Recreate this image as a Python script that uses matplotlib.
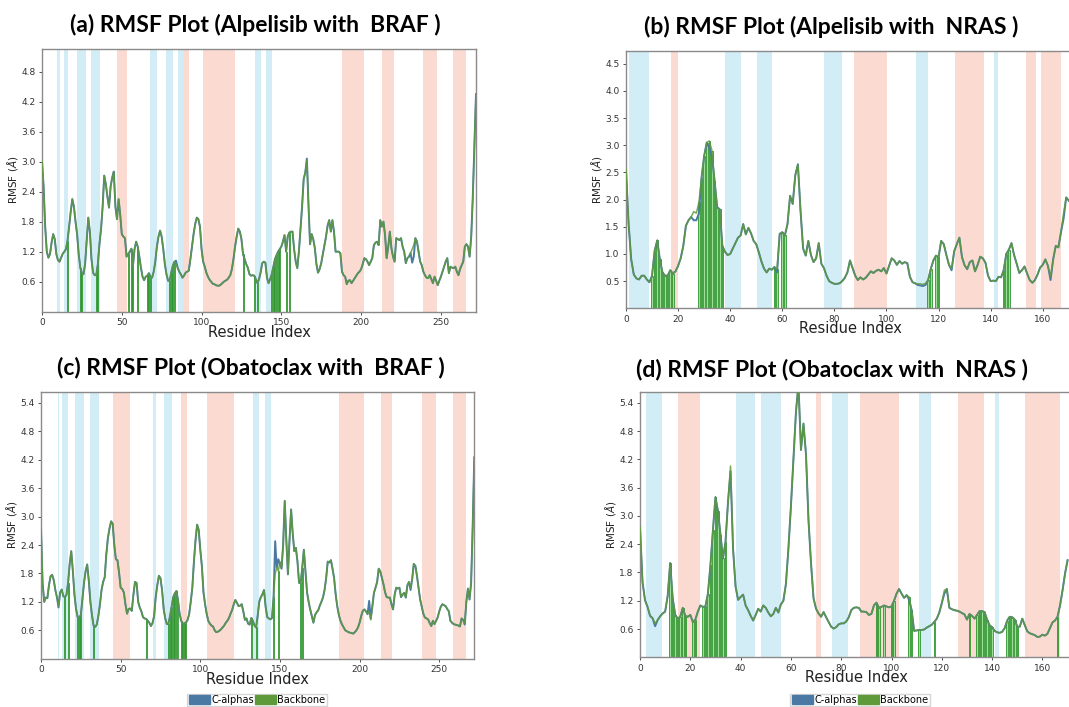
import numpy as np
import matplotlib
matplotlib.use('Agg')
import matplotlib.pyplot as plt
from matplotlib.patches import Patch

# ---- data ----
titles = ['(a) RMSF Plot (Alpelisib with  BRAF )', '(b) RMSF Plot (Alpelisib with  NRAS )',
          '(c) RMSF Plot (Obatoclax with  BRAF )', '(d) RMSF Plot (Obatoclax with  NRAS )']

# backbone RMSF per residue (Angstrom)
bb_a = [3.0, 2.5, 1.7, 1.2, 1.08, 1.15, 1.38, 1.55, 1.45, 1.15, 1.03, 1.0, 1.08, 1.16, 1.2, 1.25, 1.42, 1.7, 2.0, 2.25,
        2.1, 1.8, 1.55, 1.15, 0.88, 0.77, 0.75, 0.95, 1.4, 1.88, 1.6, 1.05, 0.78, 0.73, 0.73, 0.95, 1.35, 1.65, 2.1, 2.72,
        2.55, 2.3, 2.08, 2.5, 2.68, 2.8, 2.1, 1.85, 2.25, 1.95, 1.55, 1.5, 1.47, 1.1, 1.15, 1.2, 1.26, 0.92, 1.25, 1.4,
        1.3, 1.1, 0.88, 0.7, 0.63, 0.7, 0.72, 0.77, 0.7, 0.68, 0.8, 1.0, 1.3, 1.5, 1.62, 1.5, 1.25, 0.95, 0.75, 0.62,
        0.62, 0.78, 0.92, 1.0, 0.95, 0.88, 0.8, 0.75, 0.68, 0.72, 0.78, 0.8, 0.82, 1.05, 1.3, 1.55, 1.75, 1.88, 1.85, 1.7,
        1.25, 1.0, 0.9, 0.78, 0.7, 0.64, 0.6, 0.56, 0.55, 0.53, 0.52, 0.52, 0.54, 0.57, 0.6, 0.62, 0.64, 0.68, 0.73, 0.85,
        1.05, 1.3, 1.5, 1.66, 1.6, 1.45, 1.15, 1.05, 0.95, 0.88, 0.75, 0.72, 0.73, 0.72, 0.65, 0.57, 0.65, 0.78, 0.97, 1.0,
        0.98, 0.68, 0.57, 0.65, 0.75, 0.9, 1.05, 1.13, 1.2, 1.25, 1.3, 1.4, 1.53, 1.2, 1.5, 1.58, 1.6, 1.6, 1.25, 1.0,
        0.87, 1.2, 1.65, 2.1, 2.65, 2.78, 3.03, 2.15, 1.35, 1.55, 1.45, 1.27, 0.95, 0.78, 0.85, 0.97, 1.15, 1.33, 1.5, 1.72,
        1.83, 1.6, 1.83, 1.6, 1.2, 1.2, 1.2, 1.17, 0.8, 0.73, 0.7, 0.55, 0.62, 0.63, 0.57, 0.62, 0.67, 0.72, 0.77, 0.8,
        0.85, 0.95, 1.07, 1.05, 1.0, 0.93, 1.0, 1.07, 1.33, 1.38, 1.4, 1.33, 1.83, 1.7, 1.8, 1.53, 1.07, 1.3, 1.6, 1.27,
        1.1, 1.0, 1.47, 1.45, 1.43, 1.47, 1.3, 1.2, 0.97, 1.07, 1.1, 1.17, 1.25, 1.33, 1.47, 1.4, 1.2, 1.0, 0.93, 0.8,
        0.73, 0.68, 0.67, 0.73, 0.65, 0.57, 0.7, 0.62, 0.53, 0.62, 0.7, 0.8, 0.9, 1.0, 1.07, 0.77, 0.9, 0.88, 0.87, 0.9,
        0.8, 0.73, 0.85, 0.93, 1.0, 1.3, 1.35, 1.3, 1.1, 1.5, 2.3, 3.3, 4.35]

bb_b = [2.55, 1.55, 0.9, 0.62, 0.55, 0.53, 0.6, 0.6, 0.53, 0.48, 0.6, 1.06, 1.25, 0.9, 0.66, 0.6, 0.6, 0.7, 0.64, 0.68,
        0.78, 0.92, 1.15, 1.52, 1.62, 1.68, 1.78, 1.75, 1.95, 2.4, 2.8, 3.05, 3.08, 2.9, 2.35, 1.86, 1.82, 1.15, 1.04, 0.98,
        1.0, 1.1, 1.2, 1.3, 1.34, 1.55, 1.36, 1.48, 1.38, 1.24, 1.18, 1.03, 0.86, 0.73, 0.66, 0.73, 0.71, 0.76, 0.72, 1.37,
        1.4, 1.34, 1.55, 2.07, 1.92, 2.45, 2.65, 1.8, 1.1, 0.97, 1.24, 0.98, 0.85, 0.92, 1.2, 0.82, 0.74, 0.6, 0.5, 0.47,
        0.45, 0.45, 0.46, 0.5, 0.56, 0.66, 0.88, 0.74, 0.6, 0.52, 0.57, 0.53, 0.56, 0.62, 0.68, 0.65, 0.69, 0.71, 0.68, 0.74,
        0.64, 0.78, 0.92, 0.88, 0.8, 0.87, 0.82, 0.85, 0.83, 0.58, 0.48, 0.46, 0.45, 0.45, 0.44, 0.46, 0.52, 0.72, 0.88, 0.97,
        0.94, 1.24, 1.18, 0.98, 0.8, 0.73, 1.05, 1.18, 1.3, 0.94, 0.79, 0.72, 0.85, 0.88, 0.68, 0.8, 0.95, 0.92, 0.84, 0.6,
        0.5, 0.51, 0.5, 0.58, 0.57, 0.7, 1.0, 1.08, 1.2, 0.98, 0.82, 0.65, 0.7, 0.77, 0.64, 0.52, 0.47, 0.52, 0.62, 0.75,
        0.8, 0.9, 0.78, 0.58, 0.9, 1.15, 1.12, 1.4, 1.75, 2.04, 1.98]

bb_c = [2.75, 1.6, 1.2, 1.29, 1.28, 1.55, 1.74, 1.77, 1.66, 1.45, 1.3, 1.12, 1.4, 1.46, 1.32, 1.3, 1.35, 1.6, 2.0, 2.27,
        1.85, 1.35, 1.05, 0.88, 0.87, 0.92, 1.25, 1.6, 1.85, 1.99, 1.65, 1.2, 0.92, 0.7, 0.67, 0.72, 0.9, 1.15, 1.45, 1.62,
        1.72, 2.2, 2.55, 2.75, 2.9, 2.85, 2.4, 2.1, 2.08, 1.82, 1.5, 1.47, 1.4, 1.15, 0.95, 1.05, 1.06, 1.01, 1.35, 1.62,
        1.6, 1.2, 1.08, 1.0, 0.88, 0.85, 0.84, 0.8, 0.76, 0.69, 0.75, 0.9, 1.3, 1.55, 1.75, 1.7, 1.45, 1.05, 0.85, 0.73,
        0.74, 0.9, 1.1, 1.3, 1.38, 1.43, 1.24, 0.95, 0.8, 0.73, 0.75, 0.76, 0.82, 0.94, 1.2, 1.5, 2.05, 2.5, 2.83, 2.72,
        2.3, 1.95, 1.4, 1.15, 0.95, 0.8, 0.74, 0.7, 0.68, 0.6, 0.56, 0.57, 0.59, 0.62, 0.66, 0.7, 0.76, 0.8, 0.86, 0.95,
        1.03, 1.15, 1.24, 1.18, 1.11, 1.12, 1.15, 1.0, 0.82, 0.85, 0.74, 0.72, 0.86, 0.8, 0.7, 0.66, 0.9, 1.2, 1.3, 1.36,
        1.45, 1.1, 0.88, 0.85, 0.83, 0.86, 1.3, 1.8, 1.92, 1.85, 2.05, 1.9, 2.4, 3.33, 2.5, 1.78, 2.5, 3.15, 2.65, 2.27,
        2.34, 2.05, 1.6, 1.6, 1.92, 2.3, 1.85, 1.4, 1.2, 1.04, 0.9, 0.76, 0.92, 0.98, 1.02, 1.12, 1.2, 1.29, 1.45, 1.7,
        2.05, 2.03, 2.08, 1.9, 1.7, 1.35, 1.1, 0.92, 0.8, 0.72, 0.66, 0.6, 0.58, 0.56, 0.55, 0.54, 0.53, 0.56, 0.6, 0.66,
        0.76, 0.9, 1.01, 1.04, 1.0, 0.94, 1.0, 0.82, 1.1, 1.39, 1.5, 1.62, 1.9, 1.84, 1.7, 1.57, 1.4, 1.3, 1.29, 1.29,
        1.15, 1.04, 1.35, 1.5, 1.48, 1.5, 1.3, 1.35, 1.39, 1.29, 1.55, 1.62, 1.5, 1.68, 2.0, 1.96, 1.75, 1.5, 1.25, 1.1,
        0.95, 0.87, 0.85, 0.83, 0.75, 0.69, 0.8, 0.73, 0.8, 0.87, 1.0, 1.1, 1.15, 1.13, 1.11, 1.05, 1.0, 0.8, 0.76, 0.73,
        0.72, 0.71, 0.7, 0.68, 0.85, 0.82, 0.75, 1.2, 1.48, 1.25, 1.6, 2.8, 4.25]

bb_d = [2.76, 1.6, 1.21, 1.07, 0.88, 0.83, 0.72, 0.79, 0.87, 0.93, 0.97, 1.3, 2.0, 1.25, 0.9, 0.82, 0.86, 1.05, 0.88, 0.86,
        0.9, 0.75, 0.8, 0.97, 1.1, 1.07, 1.08, 1.35, 1.95, 2.7, 3.4, 3.1, 2.6, 2.1, 2.45, 3.3, 4.06, 2.3, 1.5, 1.22,
        1.28, 1.33, 1.1, 1.0, 0.88, 0.78, 0.9, 1.03, 0.97, 1.1, 1.05, 0.95, 0.87, 0.92, 1.05, 0.95, 1.12, 1.2, 1.55, 2.3,
        3.2, 4.2, 5.2, 5.8, 4.4, 4.96, 4.3, 2.9, 1.99, 1.25, 1.03, 0.93, 0.86, 0.96, 0.85, 0.75, 0.65, 0.61, 0.64, 0.7,
        0.72, 0.72, 0.76, 0.85, 1.0, 1.05, 1.06, 1.05, 0.97, 0.97, 0.96, 0.9, 0.92, 1.1, 1.16, 1.05, 1.07, 1.1, 1.08, 1.06,
        1.08, 1.2, 1.35, 1.45, 1.35, 1.26, 1.32, 1.28, 1.0, 0.56, 0.57, 0.58, 0.58, 0.59, 0.63, 0.66, 0.69, 0.75, 0.82, 0.95,
        1.15, 1.42, 1.45, 1.05, 1.02, 1.0, 0.99, 0.97, 0.94, 0.91, 0.8, 0.92, 0.88, 0.82, 0.9, 0.98, 0.98, 0.96, 0.8, 0.68,
        0.64, 0.56, 0.53, 0.52, 0.54, 0.62, 0.78, 0.86, 0.85, 0.8, 0.65, 0.65, 0.82, 0.68, 0.55, 0.51, 0.49, 0.47, 0.43, 0.44,
        0.48, 0.46, 0.5, 0.62, 0.74, 0.78, 0.86, 1.1, 1.42, 1.78, 2.06]

# C-alpha RMSF: same as backbone except where the blue trace shows separately
ca_diff_a = {84: 1.02, 166: 3.06, 232: 0.98, 233: 1.1}
ca_diff_b = {26: 1.62, 27: 1.62, 28: 1.75, 32: 2.95, 33: 2.8, 58: 0.66, 112: 0.43, 113: 0.42, 114: 0.41,
             115: 0.43, 125: 0.7, 163: 0.52, 168: 1.65}
ca_diff_c = {11: 1.08, 147: 2.48, 149: 2.1, 150: 2.0, 206: 1.22, 207: 0.85, 232: 1.45, 266: 0.72}
ca_diff_d = {6: 0.66, 36: 3.95, 107: 1.22, 121: 1.35}

# residues in contact with the ligand (green bars)
contacts_a = [16, 24, 25, 34, 35, 54, 56, 57, 60, 66, 67, 68, 80, 81, 82, 83, 126, 133, 135,
              144, 145, 146, 147, 148, 149, 153, 155]
contacts_b = [10, 11, 12, 13, 14, 15, 16, 17, 18, 28, 29, 30, 31, 32, 33, 34, 35, 36, 37,
              57, 58, 60, 61, 116, 117, 119, 120, 145, 146, 147]
contacts_c = [15, 17, 23, 24, 25, 33, 66, 80, 81, 82, 83, 84, 85, 86, 88, 89, 90, 91,
              132, 135, 146, 149, 163, 164]
contacts_d = [12, 13, 14, 15, 16, 17, 18, 21, 22, 25, 26, 27, 28, 29, 30, 31, 32, 33, 34,
              94, 95, 97, 100, 101, 107, 108, 111, 117, 131, 134, 135, 136, 137, 138, 139, 140,
              146, 147, 148, 149, 150, 166]

# secondary structure regions (strands in blue, helices in salmon)
strand_a = [(9.5, 11), (13.7, 16.5), (22, 27.4), (30.6, 36.2), (67.5, 72), (77.5, 82), (85.3, 88.4),
            (133.5, 137.2), (140.2, 144.2)]
helix_a = [(46.8, 53.2), (88.4, 92.2), (101, 121), (188.2, 201.8), (213.2, 220.7), (238.9, 247.5), (257.7, 265.6)]
strand_b = [(1, 9), (38.2, 44.2), (50.2, 56), (76.2, 83.1), (111.5, 116), (141.4, 143)]
helix_b = [(17.2, 20), (87.4, 100.2), (126.4, 137.3), (153.4, 157.3), (159.4, 167.2)]
strand_c = [(10.7, 11.5), (13.4, 16.9), (21.5, 27), (30.5, 36.3), (70.3, 72.4), (77, 82.2),
            (133.2, 137), (140.6, 144.1)]
helix_c = [(45.4, 56), (88.1, 91.8), (104.4, 121), (187, 202.5), (213.3, 220.2), (239.1, 247.9), (258.5, 267)]
strand_d = [(2.3, 8.7), (38, 45.6), (48.1, 56), (76.3, 82.8), (111.1, 115.7), (141, 142.7)]
helix_d = [(15, 23.9), (70.1, 71.8), (87.3, 102.8), (126.3, 136.7), (153, 166.8)]

ca_col = '#4a7aa3'
bb_col = '#5f9a3a'

W, H = 1069, 707
fig = plt.figure(figsize=(W / 100, H / 100), dpi=100)


def px_axes(left, top, right, bottom):
    return fig.add_axes([left / W, 1 - bottom / H, (right - left) / W, (bottom - top) / H])


panels = [
    dict(bb=bb_a, ca=ca_diff_a, con=contacts_a, st=strand_a, hx=helix_a, box=(42, 49, 476, 311.7),
         xlim=272, ylim=5.25, yt=np.arange(0.6, 4.81, 0.6), xt=range(0, 251, 50), tpos=(255, 25)),
    dict(bb=bb_b, ca=ca_diff_b, con=contacts_b, st=strand_b, hx=helix_b, box=(626, 50.7, 1074, 308.3),
         xlim=172, ylim=4.74, yt=np.arange(0.5, 4.51, 0.5), xt=range(0, 161, 20), tpos=(831, 27)),
    dict(bb=bb_c, ca=ca_diff_c, con=contacts_c, st=strand_c, hx=helix_c, box=(41, 392, 474.3, 658.7),
         xlim=272, ylim=5.63, yt=np.arange(0.6, 5.41, 0.6), xt=range(0, 251, 50), tpos=(251, 368)),
    dict(bb=bb_d, ca=ca_diff_d, con=contacts_d, st=strand_d, hx=helix_d, box=(640, 392, 1072.6, 657.3),
         xlim=172, ylim=5.63, yt=np.arange(0.6, 5.41, 0.6), xt=range(0, 161, 20), tpos=(832, 369)),
]

for p, title in zip(panels, titles):
    ax = px_axes(*p['box'])
    bb = p['bb']
    ca = list(bb)
    for k, v in p['ca'].items():
        ca[k] = v
    res = np.arange(len(bb))

    for s, e in p['st']:
        ax.axvspan(s, e, color='#d3edf6', lw=0, zorder=0)
    for s, e in p['hx']:
        ax.axvspan(s, e, color='#fbdad2', lw=0, zorder=0)

    heights = [bb[i] for i in p['con']]
    ax.bar(p['con'], heights, width=0.6, color='#9ee09a', edgecolor='#1e8c1e', linewidth=0.55, zorder=1)

    ax.plot(res, ca, color=ca_col, lw=1.4, zorder=2)
    ax.plot(res, bb, color=bb_col, lw=1.1, alpha=0.85, zorder=3)

    ax.set_xlim(0, p['xlim'])
    ax.set_ylim(0, p['ylim'])
    ax.set_yticks(p['yt'])
    ax.set_yticklabels([f'{v:.1f}' for v in p['yt']])
    ax.set_xticks(list(p['xt']))
    ax.tick_params(labelsize=6.5, length=2.5, width=0.6, colors='#333333', pad=2)
    for sp in ax.spines.values():
        sp.set_color('#8a8a8a')
        sp.set_linewidth(1.0)
    ax.set_xlabel('Residue Index', fontsize=10.5, labelpad=-1.5, color='#222222')
    ax.set_ylabel(r'RMSF ($\AA$)', fontsize=7.5, labelpad=1, color='#222222')

    fig.text(p['tpos'][0] / W, 1 - p['tpos'][1] / H, title, ha='center', va='center',
             fontsize=16.5, fontweight='bold', family=['Lato', 'DejaVu Sans'])

handles = [Patch(facecolor=ca_col, edgecolor=ca_col), Patch(facecolor=bb_col, edgecolor=bb_col)]
for cx in (257, 860):
    fig.legend(handles, ['C-alphas', 'Backbone'], loc='center', bbox_to_anchor=(cx / W, 1 - 700 / H),
               ncol=2, fontsize=7, handlelength=2.2, handleheight=1.0, handletextpad=0.1,
               columnspacing=0.1, borderpad=0.15, frameon=True, edgecolor='#cccccc', fancybox=False)

fig.savefig('out.png', dpi=100)
